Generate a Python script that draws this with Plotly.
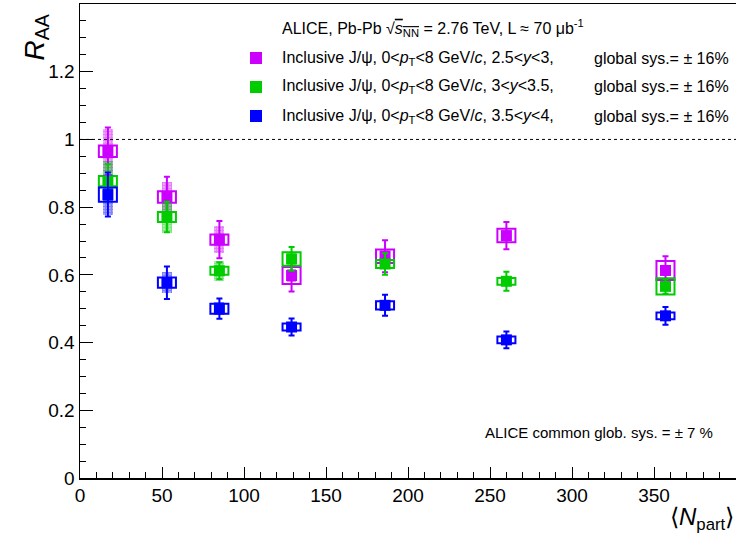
import plotly.graph_objects as go

# ---------------- data ----------------
npart = [17, 53, 85, 129, 186, 260, 357]

raa_y1 = [0.965, 0.830, 0.704, 0.598, 0.655, 0.716, 0.613]   # 2.5<y<3
stat_y1 = [0.070, 0.060, 0.055, 0.047, 0.047, 0.040, 0.042]
sysu_y1 = [0.017, 0.017, 0.015, 0.025, 0.020, 0.020, 0.028]
sysc_y1 = [0.065, 0.045, 0.040, 0.020, 0.020, 0.015, 0.015]

raa_y2 = [0.877, 0.771, 0.612, 0.647, 0.632, 0.581, 0.566]   # 3<y<3.5
stat_y2 = [0.050, 0.045, 0.025, 0.035, 0.032, 0.028, 0.022]
sysu_y2 = [0.015, 0.015, 0.012, 0.020, 0.012, 0.010, 0.024]
sysc_y2 = [0.060, 0.047, 0.030, 0.020, 0.015, 0.012, 0.012]

raa_y3 = [0.837, 0.577, 0.500, 0.446, 0.510, 0.408, 0.479]   # 3.5<y<4
stat_y3 = [0.065, 0.048, 0.030, 0.025, 0.031, 0.025, 0.026]
sysu_y3 = [0.021, 0.015, 0.015, 0.010, 0.012, 0.010, 0.010]
sysc_y3 = [0.060, 0.030, 0.020, 0.015, 0.015, 0.010, 0.010]

series_names = [
    "Inclusive J/\u03c8, 0&lt;<i>p</i><sub>T</sub>&lt;8 GeV/<i>c</i>, 2.5&lt;<i>y</i>&lt;3,",
    "Inclusive J/\u03c8, 0&lt;<i>p</i><sub>T</sub>&lt;8 GeV/<i>c</i>, 3&lt;<i>y</i>&lt;3.5,",
    "Inclusive J/\u03c8, 0&lt;<i>p</i><sub>T</sub>&lt;8 GeV/<i>c</i>, 3.5&lt;<i>y</i>&lt;4,",
]
global_sys = ["global sys.= \u00b1 16%"] * 3
colors = ["#cc00ff", "#00cc00", "#0000ff"]

x_ticks = [0, 50, 100, 150, 200, 250, 300, 350]
y_ticks = [0, 0.2, 0.4, 0.6, 0.8, 1.0, 1.2]
y_ticklabels = ["0", "0.2", "0.4", "0.6", "0.8", "1", "1.2"]

# ---------------- geometry ----------------
W, H = 740, 538          # slightly wider than the window: right frame edge falls off-screen
L_M, R_M, T_M, B_M = 80, 0, 4, 60
PW, PH = W - L_M - R_M, H - T_M - B_M
X_MAX = 400 * PW / 656.0


def px(xp):
    return (xp - L_M) / PW


def py(yp):
    return (H - B_M - yp) / PH


FONT = "Liberation Sans, Arial, Helvetica, sans-serif"

fig = go.Figure()

all_series = [
    (raa_y1, stat_y1, sysu_y1, sysc_y1),
    (raa_y2, stat_y2, sysu_y2, sysc_y2),
    (raa_y3, stat_y3, sysu_y3, sysc_y3),
]

for (raa, stat, sysu, sysc), col in zip(all_series, colors):
    # partially correlated systematic (hatched)
    fig.add_trace(go.Bar(
        x=npart, y=[2 * s for s in sysc], base=[r - s for r, s in zip(raa, sysc)],
        width=6, marker=dict(color="rgba(255,255,255,0)", line=dict(width=0),
                             pattern=dict(shape=".", fgcolor=col, bgcolor="rgba(255,255,255,0)",
                                          size=3, solidity=0.8)),
        showlegend=False, hoverinfo="skip"))
    # uncorrelated systematic (open box)
    fig.add_trace(go.Bar(
        x=npart, y=[2 * s for s in sysu], base=[r - s for r, s in zip(raa, sysu)],
        width=11, marker=dict(color="rgba(255,255,255,0)", line=dict(color=col, width=2)),
        showlegend=False, hoverinfo="skip"))

for (raa, stat, sysu, sysc), col in zip(all_series, colors):
    fig.add_trace(go.Scatter(
        x=npart, y=raa, mode="markers",
        marker=dict(symbol="square", size=11, color=col, line=dict(width=0)),
        error_y=dict(type="data", array=stat, visible=True, color=col, thickness=2, width=3),
        showlegend=False, hoverinfo="skip"))

# dotted line at unity
fig.add_shape(type="line", xref="paper", yref="y", x0=0, x1=1, y0=1, y1=1,
              line=dict(color="black", width=1, dash="dot"))

# legend / text
annots = []
annots.append(dict(
    x=px(280), y=py(28), xref="paper", yref="paper", xanchor="left", yanchor="middle",
    text="ALICE, Pb-Pb \u221a<span style='text-decoration:overline'><i>s</i><sub>NN</sub></span> = 2.76 TeV, L \u2248 70 \u03bcb<sup>-1</sup>",
    showarrow=False, font=dict(family=FONT, size=16, color="black")))
row_y = [58, 87, 116]
for name, gs, col, ry in zip(series_names, global_sys, colors, row_y):
    annots.append(dict(x=px(280), y=py(ry), xref="paper", yref="paper", xanchor="left",
                       yanchor="middle", text=name, showarrow=False,
                       font=dict(family=FONT, size=16, color="black")))
    annots.append(dict(x=px(592), y=py(ry), xref="paper", yref="paper", xanchor="left",
                       yanchor="middle", text=gs, showarrow=False,
                       font=dict(family=FONT, size=16, color="black")))
    fig.add_shape(type="rect", xref="paper", yref="paper",
                  x0=px(250), x1=px(262), y0=py(ry + 6), y1=py(ry - 6),
                  fillcolor=col, line=dict(width=0))

annots.append(dict(x=px(483), y=py(432), xref="paper", yref="paper", xanchor="left",
                   yanchor="middle", text="ALICE common glob. sys. = \u00b1 7 %",
                   showarrow=False, font=dict(family=FONT, size=15, color="black")))

# axis titles
annots.append(dict(x=px(36), y=py(12), xref="paper", yref="paper", xanchor="center",
                   yanchor="top", text="<i>R</i><sub>AA</sub>", textangle=-90,
                   showarrow=False, font=dict(family=FONT, size=28, color="black")))
annots.append(dict(x=px(736), y=py(518), xref="paper", yref="paper", xanchor="right",
                   yanchor="middle", text="\u27e8<i>N</i><sub>part</sub>\u27e9",
                   showarrow=False, font=dict(family=FONT, size=24, color="black")))

fig.update_layout(
    width=W, height=H,
    margin=dict(l=L_M, r=R_M, t=T_M, b=B_M, autoexpand=False),
    paper_bgcolor="white", plot_bgcolor="white",
    barmode="overlay", bargap=0,
    showlegend=False,
    annotations=annots,
    font=dict(family=FONT, color="black"),
    hovermode=False,
)
fig.update_xaxes(
    range=[0, X_MAX], showgrid=False, zeroline=False,
    showline=True, linecolor="black", linewidth=1.5, mirror=True,
    ticks="inside", ticklen=11, tickwidth=1, tickcolor="black",
    tickvals=x_ticks, ticktext=[str(v) for v in x_ticks],
    tickfont=dict(family=FONT, size=19, color="black"),
    minor=dict(dtick=10, tick0=0, ticks="inside", ticklen=6, tickcolor="black", showgrid=False),
)
fig.update_yaxes(
    range=[0, 1.4], showgrid=False, zeroline=False,
    showline=True, linecolor="black", linewidth=1.5, mirror=False,
    ticks="inside", ticklen=13, tickwidth=1, tickcolor="black",
    tickvals=y_ticks, ticktext=y_ticklabels,
    tickfont=dict(family=FONT, size=19, color="black"),
    minor=dict(dtick=0.05, tick0=0, ticks="inside", ticklen=6, tickcolor="black", showgrid=False),
)

fig.write_html(
    "out.html",
    config={"displayModeBar": False, "staticPlot": True},
    post_script="document.body.style.margin='0';document.body.style.padding='0';"
                "document.body.style.overflow='hidden';",
)
